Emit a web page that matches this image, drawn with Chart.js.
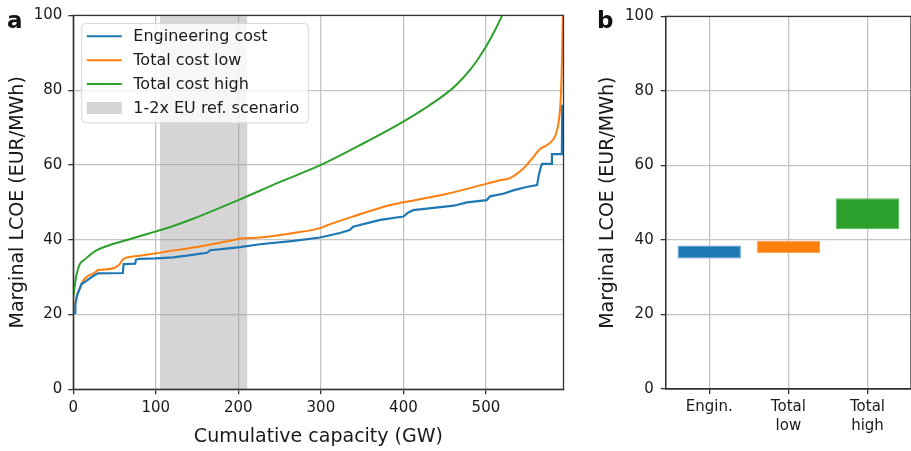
<!DOCTYPE html>
<html><head><meta charset="utf-8">
<script src="https://cdn.jsdelivr.net/npm/chart.js@4.4.1/dist/chart.umd.min.js"></script>
<style>
html,body{margin:0;padding:0;background:#fff;width:911px;height:451px;overflow:hidden;position:relative;}
canvas{position:absolute;top:0;}
.lbl{position:absolute;font:bold 23px "DejaVu Sans",sans-serif;color:#111;line-height:1;}
</style></head><body>
<canvas id="cA" width="590" height="451" style="left:0;width:590px;height:451px"></canvas>
<canvas id="cB" width="321" height="451" style="left:590px;width:321px;height:451px"></canvas>
<div class="lbl" style="left:7px;top:9px">a</div>
<div class="lbl" style="left:597px;top:9px">b</div>
<script>
// ---- data ----
const seriesNames = ['Engineering cost', 'Total cost low', 'Total cost high', '1-2x EU ref. scenario'];
const capacityTicks = [0, 100, 200, 300, 400, 500];
const lcoeTicks = [0, 20, 40, 60, 80, 100];
const euRefRange = [105, 211];

const engCap  = [0, 2.5, 2.5, 4.5, 7, 9.7, 15.8, 24, 30, 60, 61, 75, 76, 80, 100, 121, 140, 162, 166, 185, 202, 226, 267, 299, 323, 335, 339, 372, 400, 406, 412, 461, 477, 501, 505, 521, 533, 549, 562, 564, 566, 568, 580, 580, 592, 592.5, 594];
const engCost = [20.4, 20.4, 22.8, 25, 26.5, 28.1, 29, 30.3, 31, 31.1, 33.5, 33.6, 34.7, 34.9, 35, 35.3, 35.8, 36.5, 37.2, 37.6, 38, 38.8, 39.7, 40.6, 41.8, 42.6, 43.5, 45.3, 46.2, 47.3, 47.9, 49.1, 50, 50.6, 51.6, 52.3, 53.2, 54.1, 54.6, 57.2, 59, 60.3, 60.3, 62.9, 62.9, 75.8, 75.8];

const lowCap  = [0, 2.4, 4.8, 7.7, 11.8, 17.8, 26, 30, 34, 50, 56, 60, 66, 82, 99, 115, 140, 166, 185, 202, 226, 267, 299, 307, 339, 384, 400, 453, 501, 517, 529, 545, 554, 566, 576, 584, 588, 590.8, 592, 593.2];
const lowCost = [21, 23.2, 25.4, 26.8, 29, 30.3, 31.2, 31.9, 32, 32.5, 33.4, 34.7, 35.3, 35.8, 36.3, 36.9, 37.7, 38.7, 39.5, 40.3, 40.6, 41.8, 43.1, 43.8, 46.2, 49.3, 50, 52.3, 55, 55.9, 56.5, 59, 61.2, 64.3, 65.6, 67.8, 71.3, 78.4, 87.2, 100];

const highCap  = [0, 3.6, 7.7, 13.8, 26, 42, 66, 90.5, 115, 145, 200, 250, 300, 350, 400, 425, 450, 465, 480, 490, 500, 510, 518, 524];
const highCost = [25, 30.3, 33.4, 34.7, 36.9, 38.4, 40, 41.6, 43.2, 45.6, 50.6, 55.4, 60, 65.6, 71.6, 75, 78.8, 81.6, 85.2, 88.2, 91.6, 95.6, 99.2, 102];

const barLabels = [['Engin.'], ['Total', 'low'], ['Total', 'high']];
const barLow  = [35.0, 36.4, 42.9];
const barHigh = [38.5, 39.8, 51.2];

// ---- style ----
const FONT = '"DejaVu Sans", sans-serif';
const TXT = '#1a1a1a';
const GRID = '#c4c4c4';
const AX = '#333333';
const COLORS = ['#1f77b4', '#ff7f0e', '#2ca02c'];
const EDGES = ['#5c9ccc', '#ffa04d', '#5cb85c'];

const zip = (xs, ys) => xs.map((x, i) => ({x: x, y: ys[i]}));

const framePlugin = {
  id: 'frame',
  afterDraw(chart) {
    const {ctx, chartArea: a} = chart;
    ctx.save();
    ctx.strokeStyle = AX; ctx.lineWidth = 1.3;
    ctx.strokeRect(a.left, a.top, a.right - a.left, a.bottom - a.top);
    ctx.restore();
  }
};

const legendPlugin = {
  id: 'boxLegend',
  afterDatasetsDraw(chart) {
    const {ctx, chartArea: a} = chart;
    const x0 = a.left + 8.4, y0 = a.top + 8.2, w = 226.6, h = 99.3;
    ctx.save();
    ctx.beginPath();
    ctx.roundRect(x0, y0, w, h, 4);
    ctx.fillStyle = 'rgba(255,255,255,0.8)';
    ctx.fill();
    ctx.strokeStyle = '#d6d6d6'; ctx.lineWidth = 1;
    ctx.stroke();
    ctx.font = '16px ' + FONT;
    ctx.textBaseline = 'middle';
    chart.data.datasets.forEach((ds, i) => {
      const yy = y0 + 12.7 + i * 23.9;
      if (i < 3) {
        ctx.strokeStyle = ds.borderColor; ctx.lineWidth = 2;
        ctx.beginPath(); ctx.moveTo(x0 + 5, yy); ctx.lineTo(x0 + 40, yy); ctx.stroke();
      } else {
        ctx.fillStyle = '#d4d4d4';
        ctx.fillRect(x0 + 5, yy - 6, 35, 12);
      }
      ctx.fillStyle = TXT;
      ctx.fillText(ds.label, x0 + 51.6, yy + 1);
    });
    ctx.restore();
  }
};

const tickFont = {family: FONT, size: 15, lineHeight: 1.25};
const titleFont = {family: FONT, size: 19};

new Chart(document.getElementById('cA'), {
  type: 'line',
  data: {
    datasets: [
      {label: seriesNames[0], data: zip(engCap, engCost), borderColor: COLORS[0], borderWidth: 2.2, pointRadius: 0, tension: 0, fill: false},
      {label: seriesNames[1], data: zip(lowCap, lowCost), borderColor: COLORS[1], borderWidth: 2, pointRadius: 0, cubicInterpolationMode: 'monotone', fill: false},
      {label: seriesNames[2], data: zip(highCap, highCost), borderColor: COLORS[2], borderWidth: 2, pointRadius: 0, cubicInterpolationMode: 'monotone', fill: false},
      {label: seriesNames[3], data: [{x: euRefRange[0], y: 100}, {x: euRefRange[1], y: 100}], borderWidth: 0, borderColor: 'rgba(0,0,0,0)', pointRadius: 0, fill: 'origin', backgroundColor: 'rgba(150,150,150,0.4)'}
    ]
  },
  options: {
    responsive: false, animation: false, devicePixelRatio: 1,
    layout: {padding: {top: 12, right: 26.5, left: 0, bottom: 0}},
    plugins: {legend: {display: false}, tooltip: {enabled: false}},
    scales: {
      x: {
        type: 'linear', min: 0, max: 594,
        afterBuildTicks: s => { s.ticks = capacityTicks.map(v => ({value: v})); },
        afterFit: s => { s.height = 61.7; },
        grid: {color: GRID, lineWidth: 1.3, tickColor: AX, tickLength: 5, tickWidth: 1.3},
        border: {color: AX, width: 1.3},
        ticks: {font: tickFont, color: TXT, padding: 4, maxRotation: 0},
        title: {display: true, text: 'Cumulative capacity (GW)', font: titleFont, color: TXT, padding: {top: 0, bottom: 2.6}}
      },
      y: {
        min: 0, max: 100,
        afterBuildTicks: s => { s.ticks = lcoeTicks.map(v => ({value: v})); },
        afterFit: s => { s.width = 73.3; },
        grid: {color: GRID, lineWidth: 1.3, tickColor: AX, tickLength: 5, tickWidth: 1.3},
        border: {color: AX, width: 1.3},
        ticks: {font: tickFont, color: TXT, padding: 6},
        title: {display: true, text: 'Marginal LCOE (EUR/MWh)', font: titleFont, color: TXT, padding: {top: 7, bottom: 0}}
      }
    }
  },
  plugins: [framePlugin, legendPlugin]
});

new Chart(document.getElementById('cB'), {
  type: 'bar',
  data: {
    datasets: [{
      label: 'Marginal LCOE range',
      data: barLow.map((lo, i) => ({x: i, y: [lo, barHigh[i]]})),
      backgroundColor: COLORS, borderColor: EDGES, borderWidth: 1, borderSkipped: false,
      categoryPercentage: 1, barPercentage: 0.8
    }]
  },
  options: {
    responsive: false, animation: false, devicePixelRatio: 1,
    layout: {padding: {top: 12.3, right: 0, left: 0, bottom: 0}},
    plugins: {legend: {display: false}, tooltip: {enabled: false}},
    scales: {
      x: {
        type: 'linear', min: -0.55, max: 2.55, offset: false, z: 1,
        afterBuildTicks: s => { s.ticks = barLabels.map((_, i) => ({value: i})); },
        afterFit: s => { s.height = 62; },
        grid: {color: GRID, lineWidth: 1.3, tickColor: AX, tickLength: 5, tickWidth: 1.3, offset: false},
        border: {color: AX, width: 1.3},
        ticks: {font: tickFont, color: TXT, padding: 4, maxRotation: 0, autoSkip: false, callback: v => barLabels[v]}
      },
      y: {
        min: 0, max: 100, z: 1,
        afterBuildTicks: s => { s.ticks = lcoeTicks.map(v => ({value: v})); },
        afterFit: s => { s.width = 75.7; },
        grid: {color: GRID, lineWidth: 1.3, tickColor: AX, tickLength: 5, tickWidth: 1.3},
        border: {color: AX, width: 1.3},
        ticks: {font: tickFont, color: TXT, padding: 7},
        title: {display: true, text: 'Marginal LCOE (EUR/MWh)', font: titleFont, color: TXT, padding: {top: 7, bottom: 0}}
      }
    }
  },
  plugins: [framePlugin]
});
</script>
</body></html>
